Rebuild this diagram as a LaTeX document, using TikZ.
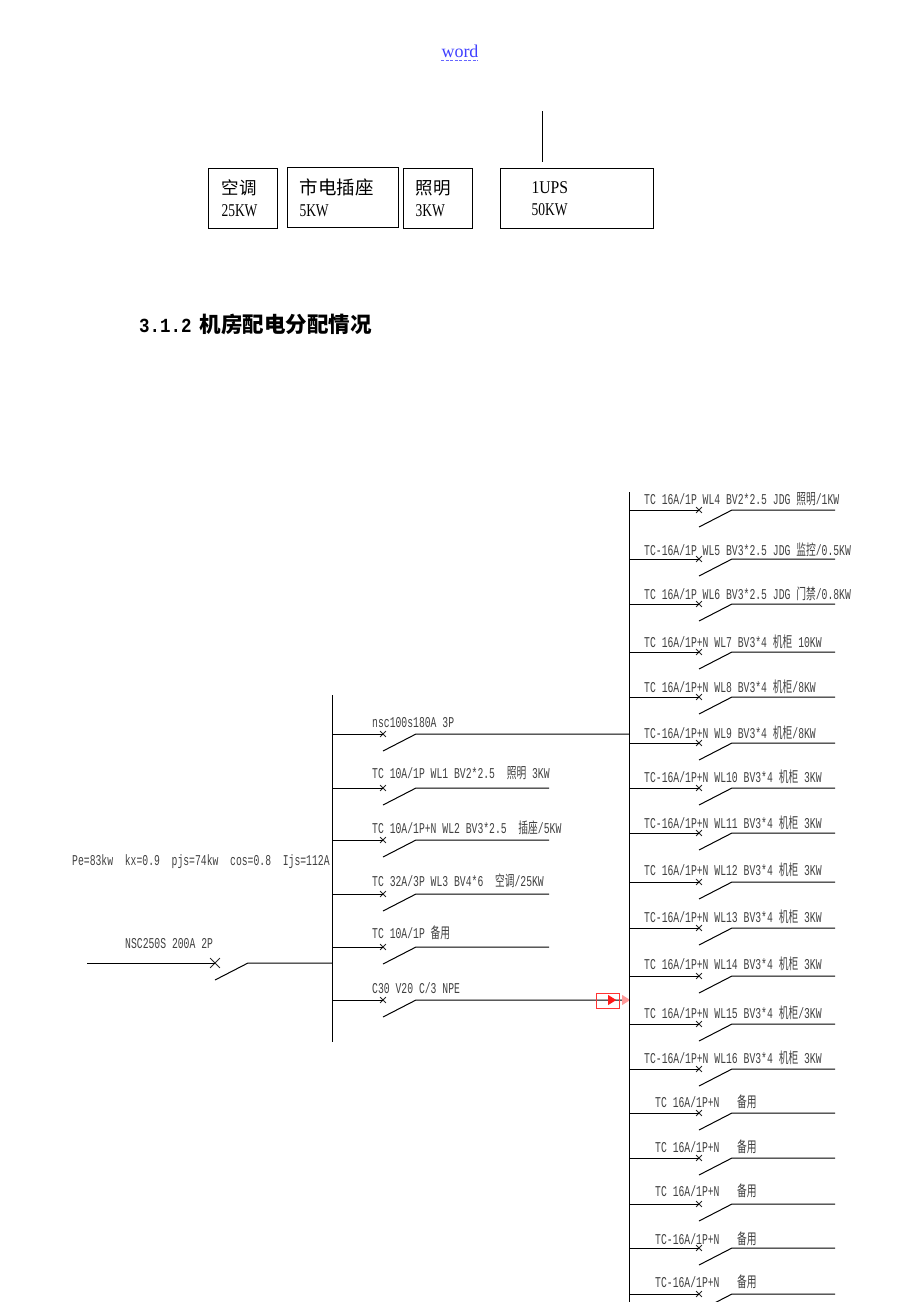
\documentclass[tikz,border=0pt]{standalone}
\usepackage{graphicx}
\usepackage{fontspec}
\setmainfont{Liberation Serif}
\newfontfamily\cadfont{Liberation Mono}
\newfontfamily\cjk{Noto Sans CJK SC}
\usetikzlibrary{shapes.geometric,shapes.misc}
\newcommand{\zh}[1]{{\cjk #1}}
\newcommand{\cad}[1]{\scalebox{0.65}[1]{#1}}
\newcommand{\boxnum}[1]{\scalebox{0.75}[1]{#1}}
\tikzset{
	powerbox/.style={draw,line width=1pt,align=left,minimum height=60pt,inner ysep=0pt,font=\fontsize{18}{22}\selectfont},
	cadline/.style={line width=1pt,black},
	cadlabel/.style={anchor=base west,inner sep=0pt,text=black!75,font=\cadfont\fontsize{15}{15}\selectfont},
	breaker/.style={cross out,draw=black!85,line width=0.8pt,inner sep=0pt,minimum size=5pt},
	flag/.style={isosceles triangle,isosceles triangle stretches,inner sep=0pt,minimum width=10pt,minimum height=8pt}
}
\begin{document}
\begin{tikzpicture}[x=1pt,y=-1pt]
	\useasboundingbox (0,0) rectangle (920,1302);

	\node (word) [anchor=base,inner sep=0pt,text=blue!75,font=\fontsize{18}{18}\selectfont] at (460,57) {word};
	\coordinate (wordl) at (441,60);
	\coordinate (wordr) at (478,60);
	\draw [blue!60,line width=0.8pt,dash pattern=on 3pt off 1.5pt] (wordl) -- (wordr);

	\coordinate (feedtop) at (542,111);
	\coordinate (feedend) at (542,162);
	\draw [cadline] (feedtop) -- (feedend);

	\node (aircon) [powerbox,minimum width=69pt,inner xsep=13pt,text width=43pt] at (243,198.5) {\zh{\fontsize{17.5}{22}\selectfont 空调}\\\boxnum{25KW}};
	\node (socket) [powerbox,minimum width=111pt,inner xsep=12pt,text width=87pt] at (343,197.5) {\zh{\fontsize{18.5}{22}\selectfont 市电插座}\\\boxnum{5KW}};
	\node (light) [powerbox,minimum width=69pt,inner xsep=12pt,text width=45pt] at (438,198.5) {\zh{\fontsize{17.5}{22}\selectfont 照明}\\\boxnum{3KW}};
	\node (ups) [powerbox,minimum width=153pt,inner xsep=31pt,text width=91pt] at (577,198.5) {\scalebox{0.87}[1]{1UPS}\\\boxnum{50KW}};

	\node (title) [anchor=base west,inner sep=0pt] at (139,332) {\bfseries\scalebox{0.875}[1]{\cadfont\fontsize{20}{20}\selectfont 3.1.2}\hspace{8pt}\cjk\fontsize{21.5}{22}\selectfont 机房配电分配情况};

	% incoming feeder
	\node (pjs) [cadlabel] at (72,865) {\cad{Pe=83kw~~kx=0.9~~pjs=74kw~~cos=0.8~~Ijs=112A}};
	\node (nsc) [cadlabel] at (125,948) {\cad{NSC250S 200A 2P}};
	\coordinate (in) at (87,963);
	\node (inx) [breaker,minimum size=9pt] at (215,963) {};
	\coordinate (intip) at (215,980);
	\coordinate (inknee) at (248,963);
	\coordinate (inbus) at (332,963);
	\path [cadline] (in) edge (inx.center);
	\draw [cadline] (intip) -- (inknee) -- (inbus);

	% left bus
	\coordinate (ltop) at (332,695);
	\coordinate (lbot) at (332,1042);
	\draw [cadline] (ltop) -- (lbot);
	\foreach \y/\ty/\e/\txt [count=\n] in {
		734/722/629/{nsc100s180A 3P},
		788/773/549/{TC 10A/1P WL1 BV2*2.5~~\zh{照明} 3KW},
		840/828/549/{TC 10A/1P+N WL2 BV3*2.5~~\zh{插座}/5KW},
		894/881/549/{TC 32A/3P WL3 BV4*6~~\zh{空调}/25KW},
		947/933/549/{TC 10A/1P \zh{备用}},
		1000/988/629/{C30 V20 C/3 NPE}}{
		\coordinate (lb\n) at (332,\y);
		\node (lx\n) [breaker] at (383,\y) {};
		\coordinate (lt\n) at (383,\y+17);
		\coordinate (lk\n) at (416,\y);
		\coordinate (le\n) at (\e,\y);
		\node (ll\n) [cadlabel] at (372,\ty+5) {\cad{\txt}};
		\draw [cadline] (lb\n) -- (lx\n.center);
		\draw [cadline] (lt\n) -- (lk\n) -- (le\n);
	}

	% marker on the last branch
	\node (mark) [draw=red!80,line width=1pt,minimum width=23pt,minimum height=15pt,inner sep=0pt] at (607.5,1000.5) {};
	\node (markin) [flag,fill=red!90] at (611,1000) {};
	\node (markout) [flag,fill=red!40] at (625,1000) {};

	% right bus
	\coordinate (rtop) at (629,492);
	\coordinate (rbot) at (629,1302);
	\draw [cadline] (rtop) -- (rbot);
	\foreach \y/\ty/\tx/\txt [count=\n] in {
		510/499/644/{TC 16A/1P WL4 BV2*2.5 JDG \zh{照明}/1KW},
		559/550/644/{TC-16A/1P WL5 BV3*2.5 JDG \zh{监控}/0.5KW},
		604/594/644/{TC 16A/1P WL6 BV3*2.5 JDG \zh{门禁}/0.8KW},
		652/642/644/{TC 16A/1P+N WL7 BV3*4 \zh{机柜} 10KW},
		697/687/644/{TC 16A/1P+N WL8 BV3*4 \zh{机柜}/8KW},
		743/733/644/{TC-16A/1P+N WL9 BV3*4 \zh{机柜}/8KW},
		788/777/644/{TC-16A/1P+N WL10 BV3*4 \zh{机柜} 3KW},
		833/823/644/{TC-16A/1P+N WL11 BV3*4 \zh{机柜} 3KW},
		882/870/644/{TC 16A/1P+N WL12 BV3*4 \zh{机柜} 3KW},
		928/917/644/{TC-16A/1P+N WL13 BV3*4 \zh{机柜} 3KW},
		976/964/644/{TC 16A/1P+N WL14 BV3*4 \zh{机柜} 3KW},
		1024/1013/644/{TC 16A/1P+N WL15 BV3*4 \zh{机柜}/3KW},
		1069/1058/644/{TC-16A/1P+N WL16 BV3*4 \zh{机柜} 3KW},
		1113/1102/655/{TC 16A/1P+N~~~\zh{备用}},
		1158/1147/655/{TC 16A/1P+N~~~\zh{备用}},
		1204/1191/655/{TC 16A/1P+N~~~\zh{备用}},
		1248/1239/655/{TC-16A/1P+N~~~\zh{备用}},
		1294/1282/655/{TC-16A/1P+N~~~\zh{备用}}}{
		\coordinate (rb\n) at (629,\y);
		\node (rx\n) [breaker] at (699,\y) {};
		\coordinate (rt\n) at (699,\y+17);
		\coordinate (rk\n) at (732,\y);
		\coordinate (re\n) at (835,\y);
		\node (rl\n) [cadlabel] at (\tx,\ty+5) {\cad{\txt}};
		\draw [cadline] (rb\n) -- (rx\n.center);
		\draw [cadline] (rt\n) -- (rk\n) -- (re\n);
	}
\end{tikzpicture}
\end{document}
